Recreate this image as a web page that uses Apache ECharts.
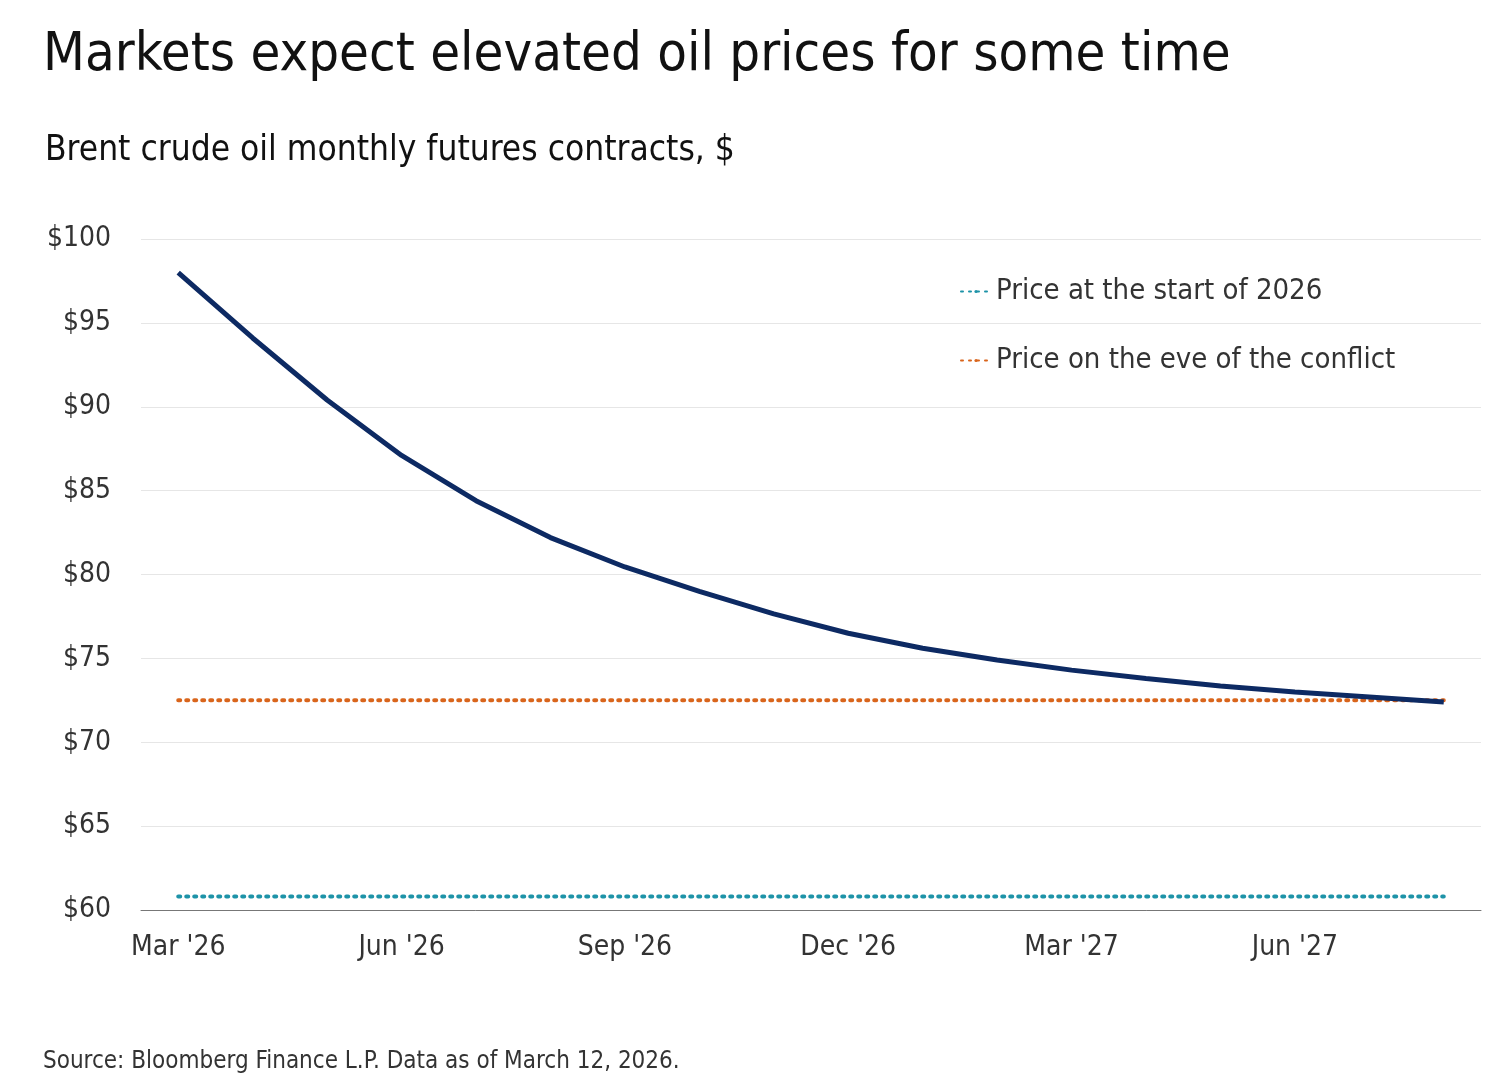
<!DOCTYPE html>
<html><head><meta charset="utf-8">
<script src="https://cdn.jsdelivr.net/npm/echarts@6/dist/echarts.min.js"></script>
<style>html,body{margin:0;padding:0;background:#fff}#c{width:1504px;height:1092px}</style>
</head><body><div id="c"></div>
<script>
const months = ["Mar '26","Apr '26","May '26","Jun '26","Jul '26","Aug '26","Sep '26","Oct '26","Nov '26","Dec '26","Jan '27","Feb '27","Mar '27","Apr '27","May '27","Jun '27","Jul '27","Aug '27"];
const futures = [98.0,94.1,90.4,87.1,84.4,82.2,80.45,79.0,77.65,76.5,75.6,74.9,74.3,73.8,73.35,73.0,72.7,72.4];
const startOf2026 = 60.8;
const eveOfConflict = 72.5;
const FONT = "'Liberation Sans Narrow','DejaVu Sans Condensed',sans-serif";
const chart = echarts.init(document.getElementById('c'));
chart.setOption({
  animation:false,
  textStyle:{fontFamily:FONT},
  title:[
    {text:'Markets expect elevated oil prices for some time',left:38,top:24,textStyle:{fontSize:54,fontWeight:'normal',color:'#111',fontFamily:FONT}},
    {text:'Brent crude oil monthly futures contracts, $',left:40,top:128,textStyle:{fontSize:35,fontWeight:'normal',color:'#111',fontFamily:FONT}},
    {text:'Source: Bloomberg Finance L.P. Data as of March 12, 2026.',left:38,top:1045,textStyle:{fontSize:24,fontWeight:'normal',color:'#333',fontFamily:FONT}}
  ],
  legend:{orient:'vertical',left:955,top:272,itemGap:40,itemWidth:30,itemHeight:4,
    data:['Price at the start of 2026','Price on the eve of the conflict'],
    textStyle:{fontSize:29,color:'#333',fontFamily:FONT}},
  grid:{left:141,right:23,top:239,bottom:182},
  xAxis:{type:'category',data:months,boundaryGap:true,
    axisLine:{lineStyle:{color:'#777'}},axisTick:{show:false},
    axisLabel:{interval:2,fontSize:28,color:'#333',margin:24}},
  yAxis:{type:'value',min:60,max:100,interval:5,
    axisLabel:{formatter:'${value}',fontSize:28,color:'#333',margin:30},
    splitLine:{lineStyle:{color:'#e6e6e6'}}},
  series:[
    {name:'Price at the start of 2026',type:'line',symbol:'none',data:months.map(()=>startOf2026),
      lineStyle:{color:'#1e93a8',width:4,type:[2,6],cap:'round'},itemStyle:{color:'#1e93a8'},z:2},
    {name:'Price on the eve of the conflict',type:'line',symbol:'none',data:months.map(()=>eveOfConflict),
      lineStyle:{color:'#d9651c',width:4,type:[2,6],cap:'round'},itemStyle:{color:'#d9651c'},z:2},
    {name:'Futures',type:'line',symbol:'none',data:futures,
      lineStyle:{color:'#0d2a63',width:5},itemStyle:{color:'#0d2a63'},z:3}
  ]
});
</script></body></html>
